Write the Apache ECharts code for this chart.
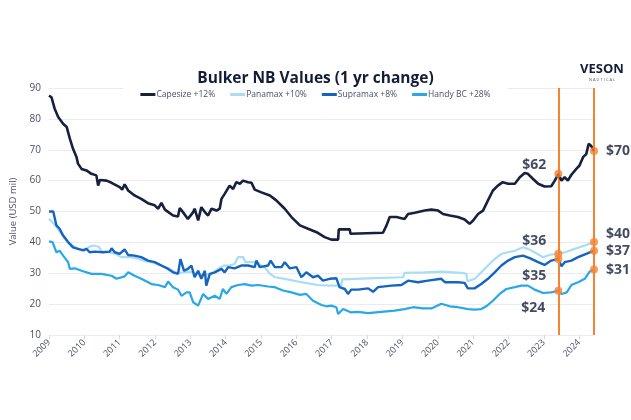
<!DOCTYPE html>
<html><head><meta charset="utf-8">
<script src="https://cdn.jsdelivr.net/npm/echarts@6/dist/echarts.min.js"></script>
<style>html,body{margin:0;padding:0;background:#fff}#c{width:631px;height:420px}</style>
</head><body><div id="c"></div>
<script>
const titleText = 'Bulker NB Values (1 yr change)';
const seriesNames = ['Capesize +12%', 'Panamax +10%', 'Supramax +8%', 'Handy BC +28%'];
const yTicks = [10, 20, 30, 40, 50, 60, 70, 80, 90];
const markYears = [2023.41, 2024.42];

const capesize = [[2009.00,87.5],[2009.07,87],[2009.16,83.3],[2009.26,80.6],[2009.40,78.4],[2009.50,77.4],[2009.59,73.6],[2009.68,70.3],[2009.78,67.6],[2009.82,65.5],[2009.92,63.8],[2010.06,63.3],[2010.20,62.2],[2010.34,61.7],[2010.39,58.4],[2010.44,60.2],[2010.63,60],[2010.77,59.3],[2011.00,57.9],[2011.07,57.1],[2011.14,58.8],[2011.24,56.8],[2011.42,55.2],[2011.61,54.1],[2011.80,52.7],[2011.99,52],[2012.09,50.9],[2012.18,52.8],[2012.28,50.6],[2012.51,48.7],[2012.65,48.4],[2012.70,51.1],[2012.79,49.8],[2012.93,47.6],[2012.98,47.6],[2013.08,49.8],[2013.12,50.9],[2013.22,47.1],[2013.31,51.4],[2013.41,49.8],[2013.50,48.7],[2013.60,50.9],[2013.74,50.3],[2013.83,50.9],[2013.88,54.1],[2013.97,55.7],[2014.02,55.2],[2014.11,58.4],[2014.21,57.3],[2014.30,59.5],[2014.40,59],[2014.49,60],[2014.63,59.5],[2014.73,59.3],[2014.82,57.1],[2015.01,56.2],[2015.25,55.2],[2015.43,53.6],[2015.67,50.9],[2015.86,48.2],[2016.10,45.5],[2016.33,44.4],[2016.57,43.3],[2016.80,41.7],[2016.99,40.9],[2017.18,40.9],[2017.20,44.2],[2017.51,44.2],[2017.53,42.8],[2018.45,43.1],[2018.55,45.5],[2018.64,48.2],[2018.83,48.2],[2019.06,47.6],[2019.16,49.2],[2019.35,49.6],[2019.63,50.3],[2019.82,50.6],[2020.01,50.3],[2020.15,49.2],[2020.34,48.7],[2020.57,48.2],[2020.76,47.4],[2020.90,46],[2021.00,47.1],[2021.14,49.2],[2021.28,50.3],[2021.42,53.6],[2021.56,56.8],[2021.70,58.4],[2021.84,59.5],[2021.99,59],[2022.18,59],[2022.32,61.1],[2022.46,62.5],[2022.55,62.2],[2022.69,60.6],[2022.84,59],[2023.02,58.1],[2023.21,58.2],[2023.31,60],[2023.41,62.2],[2023.50,60],[2023.59,61.1],[2023.68,60],[2023.78,61.9],[2023.92,63.8],[2024.01,64.9],[2024.11,67.6],[2024.20,68.6],[2024.27,71.9],[2024.33,71.4],[2024.42,69.6]];

const panamax = [[2009.00,47.6],[2009.10,46.5],[2009.21,45],[2009.35,42.8],[2009.50,40.5],[2009.68,38.8],[2009.85,37.8],[2010.00,37.6],[2010.15,38.6],[2010.25,39],[2010.40,38.6],[2010.50,37],[2010.70,36.8],[2010.90,36.2],[2011.05,35.2],[2011.30,35.2],[2011.50,34.8],[2011.70,34],[2011.95,33.4],[2012.10,32.8],[2012.40,31.5],[2012.60,30.2],[2012.80,30.3],[2013.00,30.5],[2013.30,29.5],[2013.60,29.8],[2013.80,31.5],[2013.95,32.5],[2014.10,32.5],[2014.25,33],[2014.35,35.2],[2014.50,35.2],[2014.55,33.6],[2014.82,33.6],[2015.10,32],[2015.25,29.8],[2015.40,28.7],[2015.67,28.2],[2016.14,27.1],[2016.60,26.2],[2016.94,26],[2017.27,26],[2017.30,28],[2018.21,28.4],[2019.02,28.7],[2019.06,30.1],[2019.63,30.3],[2020.10,30.5],[2020.67,30.1],[2020.81,29.8],[2020.84,27.4],[2021.05,28.2],[2021.23,30.3],[2021.42,32.5],[2021.61,34.6],[2021.80,36.3],[2021.99,36.8],[2022.18,37.3],[2022.41,38.4],[2022.55,37.9],[2022.74,36.8],[2022.98,35.2],[2023.17,36],[2023.41,36.3],[2023.60,36.8],[2023.87,37.9],[2024.16,39],[2024.42,40.1]];

const supramax = [[2009.00,50],[2009.05,50.5],[2009.12,50],[2009.21,45.5],[2009.30,44.4],[2009.40,42.2],[2009.54,40.1],[2009.68,38.4],[2009.82,37.9],[2009.97,37.4],[2010.06,37.9],[2010.15,36.8],[2010.30,37],[2010.53,36.8],[2010.72,37],[2010.77,38.1],[2010.86,36.8],[2011.00,36.3],[2011.14,37.7],[2011.24,35.9],[2011.42,35.7],[2011.61,35.2],[2011.80,34.1],[2011.99,33.6],[2012.18,32.5],[2012.37,31.4],[2012.51,30.3],[2012.65,29.8],[2012.72,34.6],[2012.82,30.8],[2012.93,31.4],[2013.03,32.5],[2013.12,28.7],[2013.22,30.8],[2013.31,28.2],[2013.41,30.8],[2013.45,26],[2013.55,29.8],[2013.69,30.3],[2013.88,31.4],[2013.97,30.3],[2014.07,32],[2014.25,31.6],[2014.44,32.5],[2014.63,32.5],[2014.82,32],[2014.87,34.1],[2014.96,32],[2015.20,32.5],[2015.27,34.1],[2015.39,32],[2015.58,32],[2015.67,33.6],[2015.81,31.6],[2016.00,32],[2016.14,28.7],[2016.28,30.3],[2016.47,28.7],[2016.61,29.2],[2016.75,27.6],[2016.94,28.2],[2016.99,27.6],[2017.13,28.4],[2017.22,25.5],[2017.37,24.9],[2017.46,23.3],[2017.55,24.7],[2017.74,24.7],[2018.03,25.1],[2018.17,24],[2018.31,25.5],[2018.69,26],[2018.97,26.2],[2019.16,27.6],[2019.44,27.1],[2019.72,27.6],[2020.10,28.2],[2020.20,27.1],[2020.57,27.1],[2020.76,26.9],[2020.85,25.1],[2021.04,25.1],[2021.23,26.5],[2021.42,28.2],[2021.61,30.3],[2021.80,32.5],[2021.99,34.1],[2022.18,35.2],[2022.41,35.7],[2022.60,34.9],[2022.84,33.6],[2023.02,32.7],[2023.21,34.1],[2023.41,34.6],[2023.50,32.3],[2023.59,33.6],[2023.78,34.1],[2023.97,35.2],[2024.20,36.3],[2024.42,37.3]];

const handy = [[2009.00,40.3],[2009.10,40.1],[2009.21,36.8],[2009.30,37.3],[2009.40,35.7],[2009.54,33.6],[2009.59,31.4],[2009.73,31.6],[2009.92,30.8],[2010.20,29.8],[2010.48,29.8],[2010.77,29.2],[2010.91,28.2],[2011.14,29],[2011.24,30.3],[2011.42,29.2],[2011.61,28.2],[2011.90,26.5],[2012.09,26.2],[2012.28,25.5],[2012.37,27.3],[2012.51,25.5],[2012.65,24.7],[2012.75,22.7],[2012.89,23.8],[2012.98,23.8],[2013.08,20.6],[2013.22,19.5],[2013.36,23.3],[2013.50,21.7],[2013.69,22.7],[2013.83,21.7],[2013.92,24.9],[2014.02,23.3],[2014.16,25.5],[2014.35,26.2],[2014.54,26.5],[2014.73,26],[2014.92,26.2],[2015.20,25.7],[2015.39,25.5],[2015.62,24.4],[2015.86,23.8],[2016.10,23],[2016.28,23.3],[2016.47,21.1],[2016.71,19.7],[2016.85,19.3],[2016.99,19.5],[2017.13,19],[2017.18,16.8],[2017.32,18.4],[2017.55,17.3],[2017.74,17.5],[2018.03,17.1],[2018.40,17.5],[2018.78,17.9],[2019.06,18.4],[2019.30,19],[2019.58,18.6],[2019.82,18.6],[2020.10,20.1],[2020.34,19.3],[2020.57,19],[2020.86,18.4],[2021.04,18.2],[2021.23,18.4],[2021.37,19.3],[2021.56,21.1],[2021.75,23.3],[2021.94,24.9],[2022.18,25.5],[2022.36,26],[2022.55,26],[2022.74,24.7],[2022.98,23.6],[2023.21,23.8],[2023.41,24.3],[2023.50,23.3],[2023.65,23.8],[2023.78,26.2],[2023.97,27.1],[2024.16,28.2],[2024.30,30.6],[2024.42,31.2]];

const allData = [capesize, panamax, supramax, handy];
const colors = ['#16213f', '#a9ddf6', '#1565c0', '#2aa7e6'];
const widths = [2.6, 2.2, 2.4, 2.2];
const ORANGE = '#f58331';
const NAVY = '#141d38';
const GREY = '#4a5068';
const FONT = 'Open Sans';

// label placement per [series, markIndex]
const labelStyle = {
  '0-0': {position: 'left', offset: [-2, -9]},
  '1-0': {position: 'left', offset: [-2, -13]},
  '2-0': {position: 'left', offset: [-2, 17]},
  '3-0': {position: 'left', offset: [-3, 17]},
  '0-1': {position: 'right', offset: [2, 0]},
  '1-1': {position: 'right', offset: [2, -8]},
  '2-1': {position: 'right', offset: [2, 0]},
  '3-1': {position: 'right', offset: [2, 0]}
};

const dots = [];
allData.forEach((arr, si) => {
  markYears.forEach((yr, mi) => {
    const p = arr.find(d => Math.abs(d[0] - yr) < 1e-6);
    const ls = labelStyle[si + '-' + mi];
    dots.push({
      value: p,
      label: {show: true, position: ls.position, offset: ls.offset, distance: 6,
        formatter: '$' + Math.round(p[1]), fontFamily: FONT, fontWeight: 'bold', fontSize: 14, color: NAVY,
        textBorderWidth: 0}
    });
  });
});

const series = allData.map((arr, i) => ({
  name: seriesNames[i], type: 'line', data: arr, showSymbol: false, symbol: 'none',
  lineStyle: {color: colors[i], width: widths[i]}, itemStyle: {color: colors[i]},
  z: [5, 2, 3, 4][i], animation: false
}));
series.push({
  type: 'scatter', data: dots, symbolSize: 8, itemStyle: {color: ORANGE}, z: 10, animation: false,
  markLine: {silent: true, symbol: 'none', label: {show: false},
    lineStyle: {color: ORANGE, width: 2, type: 'solid'},
    data: markYears.map(y => ({xAxis: y})), animation: false}
});

const chart = echarts.init(document.getElementById('c'), null, {renderer: 'canvas'});
chart.setOption({
  backgroundColor: '#fff',
  animation: false,
  textStyle: {fontFamily: FONT},
  title: {text: titleText, left: 'center', top: 66,
    textStyle: {fontFamily: FONT, fontWeight: 'bold', fontSize: 15.5, color: NAVY}},
  legend: {
    data: seriesNames, top: 87, left: 'center', icon: 'rect', itemWidth: 15, itemHeight: 3,
    itemGap: 15, padding: [3, 17, 3, 17], backgroundColor: '#fff',
    textStyle: {fontFamily: FONT, fontSize: 8.5, color: GREY, padding: [0, 0, 0, -4]}
  },
  grid: {left: 49, right: 37, top: 88, bottom: 85, containLabel: false},
  xAxis: {
    type: 'value', min: 2009, max: markYears[1], interval: 1,
    axisLine: {show: false},
    axisTick: {show: true, length: 4, lineStyle: {color: '#d8d8e0'}},
    splitLine: {show: false},
    axisLabel: {rotate: 45, fontSize: 9, color: GREY, margin: 6, showMaxLabel: false,
      formatter: v => (Math.abs(v - Math.round(v)) < 1e-6 ? String(Math.round(v)) : '')}
  },
  yAxis: {
    type: 'value', min: yTicks[0], max: yTicks[yTicks.length - 1], interval: 10,
    name: 'Value (USD mil)', nameLocation: 'middle', nameGap: 28,
    nameTextStyle: {fontFamily: FONT, fontSize: 9.5, color: GREY},
    axisLine: {show: false}, axisTick: {show: false},
    axisLabel: {fontSize: 10, color: GREY, margin: 8},
    splitLine: {lineStyle: {color: '#ebebf0', width: 1}}
  },
  graphic: [
    {type: 'text', left: 580, top: 63, z: 20, style: {
      text: 'VES{o|O}N', fontFamily: FONT, fontWeight: 'bold', fontSize: 13, fill: NAVY,
      rich: {o: {fontFamily: FONT, fontWeight: 'bold', fontSize: 13, color: ORANGE}}}},
    {type: 'text', left: 589, top: 78, z: 20, style: {
      text: 'N A U T I C A L', fontFamily: FONT, fontSize: 4, fill: GREY}}
  ],
  series: series
});
</script></body></html>
